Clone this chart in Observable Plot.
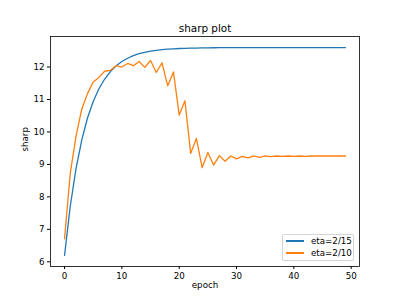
<!DOCTYPE html>
<html>
<head>
<meta charset="utf-8">
<script src="https://cdn.jsdelivr.net/npm/d3@7"></script>
<script src="https://cdn.jsdelivr.net/npm/@observablehq/plot@0.6"></script>
<style>
  html, body { margin: 0; padding: 0; background: #fff; }
  #wrap { position: relative; width: 399px; height: 299px; font-family: "DejaVu Sans", sans-serif; }
  #legend { position: absolute; left: 282px; top: 234px; width: 72px; height: 27px; box-sizing: border-box;
    border: 1px solid #d4d4d4; border-radius: 2px; background: rgba(255,255,255,0.8); font-size: 8.7px; }
  .row { position: absolute; left: 3px; display: flex; align-items: center; height: 10px; }
  .sw { width: 18px; height: 1.3px; margin-right: 7px; }
</style>
</head>
<body>
<div id="wrap"></div>
<script>
const epochs = d3.range(0, 50);
const seriesNames = ["eta=2/15", "eta=2/10"];
const colors = ["#1f77b4", "#ff7f0e"];
const eta15 = [6.2, 7.72, 8.87, 9.75, 10.43, 10.94, 11.33, 11.63, 11.86, 12.04,
  12.17, 12.27, 12.35, 12.41, 12.45, 12.49, 12.515, 12.535, 12.55, 12.56,
  12.57, 12.575, 12.58, 12.585, 12.59, 12.592, 12.594, 12.596, 12.597, 12.598,
  12.6, 12.6, 12.6, 12.6, 12.6, 12.6, 12.6, 12.6, 12.6, 12.6,
  12.6, 12.6, 12.6, 12.6, 12.6, 12.6, 12.6, 12.6, 12.6, 12.6];
const eta10 = [6.71, 8.73, 9.87, 10.7, 11.18, 11.54, 11.68, 11.87, 11.9, 12.04,
  12.0, 12.11, 12.04, 12.17, 11.99, 12.2, 11.83, 12.13, 11.42, 11.85,
  10.52, 10.96, 9.34, 9.8, 8.9, 9.37, 8.98, 9.27, 9.1, 9.26,
  9.17, 9.25, 9.2, 9.26, 9.22, 9.26, 9.24, 9.26, 9.25, 9.26,
  9.25, 9.26, 9.25, 9.26, 9.26, 9.26, 9.26, 9.26, 9.26, 9.26];
const xTicks = [0, 10, 20, 30, 40, 50];
const yTicks = [6, 7, 8, 9, 10, 11, 12];
const titleText = "sharp plot";
const xLabel = "epoch";
const yLabel = "sharp";

const data = [];
epochs.forEach((e, i) => {
  data.push({epoch: e, value: eta15[i], series: seriesNames[0]});
  data.push({epoch: e, value: eta10[i], series: seriesNames[1]});
});

const chart = Plot.plot({
  width: 399,
  height: 299,
  marginLeft: 50,
  marginRight: 40,
  marginTop: 36,
  marginBottom: 33,
  style: {fontFamily: "DejaVu Sans, sans-serif", fontSize: "8.7px", background: "#fff", color: "#000"},
  x: {domain: [-2.45, 51.45]},
  y: {domain: [5.856, 12.94]},
  color: {domain: seriesNames, range: colors},
  marks: [
    Plot.line(data, {x: "epoch", y: "value", stroke: "series", strokeWidth: 1.3, z: "series"}),
    Plot.frame({stroke: "#000", strokeWidth: 0.8}),
    Plot.axisX({ticks: xTicks, tickSize: 3, tickPadding: 3, label: null, tickFormat: d => String(d)}),
    Plot.axisY({ticks: yTicks, tickSize: 3, tickPadding: 3, label: null, tickFormat: d => String(d)}),
    Plot.text([xLabel], {frameAnchor: "bottom", dy: 21.5, text: d => d, fontSize: 8.7}),
    Plot.text([yLabel], {frameAnchor: "left", dx: -25, rotate: -90, text: d => d, fontSize: 8.7}),
    Plot.text([titleText], {frameAnchor: "top", dy: -5, lineAnchor: "bottom", text: d => d, fontSize: 10.4})
  ]
});

const wrap = document.getElementById("wrap");
wrap.appendChild(chart);
const legend = document.createElement("div");
legend.id = "legend";
seriesNames.forEach((name, i) => {
  const row = document.createElement("div");
  row.className = "row";
  row.style.top = (1 + i * 12) + "px";
  const sw = document.createElement("div");
  sw.className = "sw";
  sw.style.background = colors[i];
  const lab = document.createElement("span");
  lab.textContent = name;
  row.appendChild(sw);
  row.appendChild(lab);
  legend.appendChild(row);
});
wrap.appendChild(legend);
</script>
</body>
</html>
